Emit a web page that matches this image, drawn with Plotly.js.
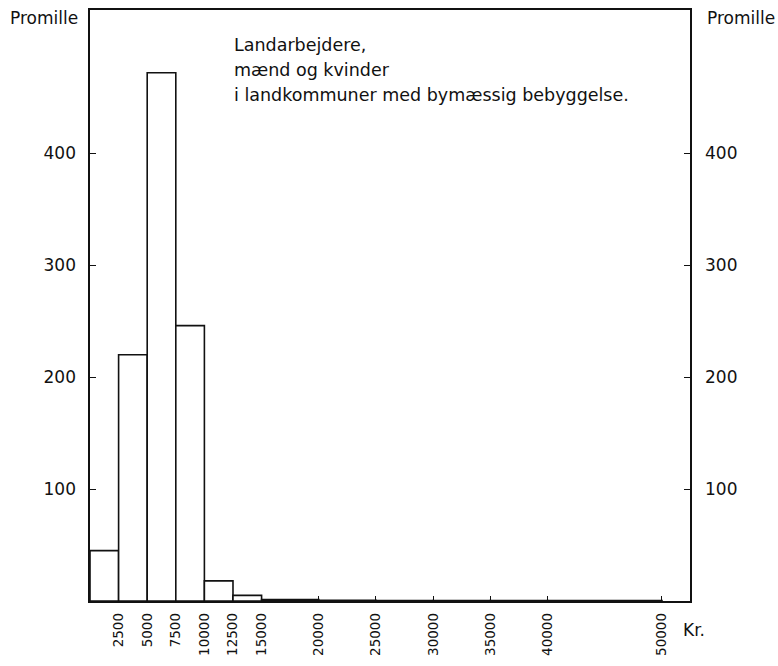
<!DOCTYPE html>
<html>
<head>
<meta charset="utf-8">
<script src="https://cdn.plot.ly/plotly-3.0.1.min.js"></script>
<style>
  body { margin: 0; background: #fff; }
  #chart { width: 778px; height: 666px; }
</style>
</head>
<body>
<div id="chart"></div>
<script>
// income classes (kr.) and share in promille
var binStart = [0, 2500, 5000, 7500, 10000, 12500, 15000, 20000, 25000, 30000, 35000, 40000];
var binEnd = [2500, 5000, 7500, 10000, 12500, 15000, 20000, 25000, 30000, 35000, 40000, 50000];
var promille = [45, 220, 472, 246, 18, 5, 1.2, 0.6, 0.5, 0.4, 0.3, 0.3];

var xTicks = [2500, 5000, 7500, 10000, 12500, 15000, 20000, 25000, 30000, 35000, 40000, 50000];
var xTickText = xTicks.map(String);
var yTicks = [100, 200, 300, 400];

var mids = binStart.map((s, i) => (s + binEnd[i]) / 2);
var widths = binStart.map((s, i) => binEnd[i] - s);

var family = 'DejaVu Sans, Arial, sans-serif';
var ink = '#111';
var yFont = { family: family, size: 17, color: ink };
var xFont = { family: family, size: 13.5, color: ink };
var noteFont = { family: family, size: 17.5, color: ink };

var trace = {
    x: mids,
    y: promille,
    width: widths,
    type: 'bar',
    marker: { color: 'white', line: { color: ink, width: 1.6 } },
    hoverinfo: 'skip'
};
// invisible trace to carry the right-hand axis
var trace2 = {
    x: [0], y: [0], yaxis: 'y2', type: 'scatter', mode: 'markers',
    marker: { opacity: 0 }, hoverinfo: 'skip'
};

var layout = {
    width: 778, height: 666,
    margin: { l: 90, r: 88, t: 10, b: 65 },
    paper_bgcolor: 'white', plot_bgcolor: 'white',
    showlegend: false,
    font: { family: family, color: ink },
    bargap: 0,
    xaxis: {
        range: [0, 52450],
        tickvals: xTicks,
        ticktext: xTickText,
        tickangle: -90,
        ticks: 'inside', ticklen: 5, tickcolor: ink,
        ticklabelstandoff: 5,
        showline: true, linecolor: ink, linewidth: 1.6, mirror: true,
        showgrid: false, zeroline: false,
        tickfont: xFont
    },
    yaxis: {
        range: [0, 528],
        tickvals: yTicks,
        ticks: 'inside', ticklen: 6, tickcolor: ink,
        ticklabelstandoff: 9,
        showline: true, linecolor: ink, linewidth: 1.6,
        showgrid: false, zeroline: false,
        tickfont: yFont
    },
    yaxis2: {
        range: [0, 528],
        overlaying: 'y', side: 'right',
        tickvals: yTicks,
        ticks: 'inside', ticklen: 6, tickcolor: ink,
        ticklabelstandoff: 10,
        showline: true, linecolor: ink, linewidth: 1.6,
        showgrid: false, zeroline: false,
        tickfont: yFont
    },
    annotations: [
        { text: 'Promille', xref: 'paper', yref: 'paper', x: -0.137, y: 0.986, xanchor: 'left', yanchor: 'middle', showarrow: false, font: yFont },
        { text: 'Promille', xref: 'paper', yref: 'paper', x: 1.025, y: 0.986, xanchor: 'left', yanchor: 'middle', showarrow: false, font: yFont },
        { text: 'Landarbejdere,', xref: 'paper', yref: 'paper', x: 0.236, y: 0.941, xanchor: 'left', yanchor: 'middle', showarrow: false, font: noteFont },
        { text: 'mænd og kvinder', xref: 'paper', yref: 'paper', x: 0.236, y: 0.899, xanchor: 'left', yanchor: 'middle', showarrow: false, font: noteFont },
        { text: 'i landkommuner med bymæssig bebyggelse.', xref: 'paper', yref: 'paper', x: 0.236, y: 0.856, xanchor: 'left', yanchor: 'middle', showarrow: false, font: noteFont },
        { text: 'Kr.', xref: 'paper', yref: 'paper', x: 0.985, y: -0.049, xanchor: 'left', yanchor: 'middle', showarrow: false, font: yFont }
    ]
};

Plotly.newPlot('chart', [trace, trace2], layout, { displayModeBar: false, staticPlot: true });
</script>
</body>
</html>
